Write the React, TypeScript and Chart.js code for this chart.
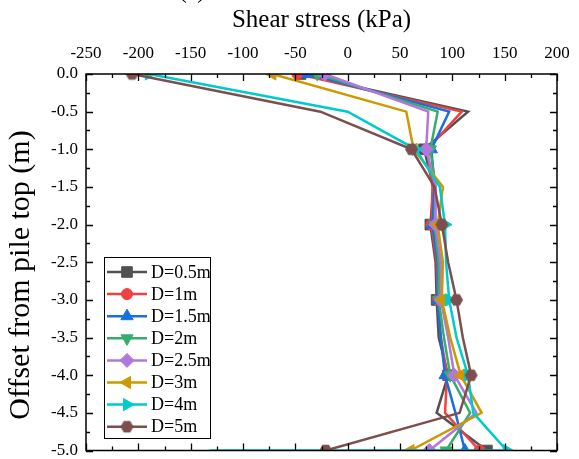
import React, { useEffect, useRef } from "react";
import { Chart, registerables } from "chart.js";
import { drawPoint } from "chart.js/helpers";

Chart.register(...registerables);

const FONT = "'Times New Roman', 'Liberation Serif', serif";

const DEPTHS = [0, -0.5, -1, -1.5, -2, -2.5, -3, -3.5, -4, -4.5, -5];
const DEPTHS_D4 = [0, -0.5, -1, -1.5, -2, -2.5, -3, -3.5, -4, -4.5, -5, -5];

const LABELS = ["D=0.5m", "D=1m", "D=1.5m", "D=2m", "D=2.5m", "D=3m", "D=4m", "D=5m"];
const D05 = [-45, 115, 73, 82, 79, 84, 85, 87, 96, 85, 133];
const D1 = [-48, 109, 76, 81, 80, 85, 86, 89, 95, 93, 126];
const D15 = [-38, 97, 80, 83, 81, 86, 86, 89, 93, 103, 112];
const D2 = [-29, 86, 79, 84, 83, 87, 87, 92, 98, 117, 94];
const D25 = [-22, 77, 75, 84, 84, 89, 89, 96, 102, 123, 78];
const D3 = [-72, 56, 63, 91, 86, 91, 90, 98, 108, 128, 60];
const D4 = [-190, 0, 65, 88, 93, 94, 97, 104, 115, 120, 152, -132];
const D5 = [-206, -26, 61, 83, 90, 96, 104, 110, 118, 107, -21];

const SERIES = [D05, D1, D15, D2, D25, D3, D4, D5];
const SERIES_DEPTHS = [DEPTHS, DEPTHS, DEPTHS, DEPTHS, DEPTHS, DEPTHS, DEPTHS_D4, DEPTHS];

const X_TITLE = "Shear stress (kPa)";
const Y_TITLE = "Offset from pile top (m)";
const PANEL_LABEL = "(a)";

const X_MIN = -250;
const X_MAX = 200;
const X_STEP = 50;
const Y_MIN = -5;
const Y_MAX = 0;
const Y_STEP = 0.5;

const COLORS = ["#515151", "#F14040", "#1A6FDF", "#37AD6B", "#B177DE", "#CC9900", "#00CBCC", "#7D4E4E"];
const MARKERS = ["rect", "circle", "triangle", "triangle", "rectRot", "triangle", "triangle", "hexagon"];
const ROTATIONS = [0, 0, 0, 180, 0, 270, 90, 0];
const RADII = [7.5, 5.5, 7, 7, 7, 7, 7, 6.5];

function makeHexagon(color: string, r: number) {
  const c = document.createElement("canvas");
  const s = Math.ceil(r * 2 + 2);
  c.width = s;
  c.height = s;
  const g = c.getContext("2d")!;
  g.fillStyle = color;
  g.beginPath();
  for (let k = 0; k < 6; k++) {
    const a = (Math.PI / 3) * k;
    const px = s / 2 + r * Math.cos(a);
    const py = s / 2 + r * Math.sin(a);
    if (k === 0) g.moveTo(px, py);
    else g.lineTo(px, py);
  }
  g.closePath();
  g.fill();
  return c;
}

export default function App() {
  const ref = useRef<HTMLCanvasElement | null>(null);

  useEffect(() => {
    if (!ref.current) return;
    Chart.defaults.font.family = FONT;
    const hex = makeHexagon(COLORS[7], 6.5);
    const styles: any[] = MARKERS.map((m) => (m === "hexagon" ? hex : m));

    const datasets = SERIES.map((vals, i) => ({
      label: LABELS[i],
      data: vals.map((v, j) => ({ x: v, y: SERIES_DEPTHS[i][j] })),
      showLine: true,
      borderColor: COLORS[i],
      backgroundColor: COLORS[i],
      borderWidth: 2.5,
      pointStyle: styles[i],
      rotation: ROTATIONS[i],
      pointBorderWidth: 1,
      pointBorderColor: COLORS[i],
      pointBackgroundColor: COLORS[i],
      pointRadius: (ctx: any) => (ctx.dataIndex % 2 === 0 && ctx.dataIndex <= 10 ? RADII[i] : 0),
      pointHoverRadius: 0,
      tension: 0,
      fill: false,
      clip: 0,
      order: SERIES.length - 1 - i,
    }));

    const framePlugin = {
      id: "frame",
      afterDraw(chart: any) {
        const { ctx, chartArea: a } = chart;
        const xs = chart.scales.x;
        const ys = chart.scales.y;
        ctx.save();
        ctx.strokeStyle = "#000";
        ctx.lineWidth = 1.5;
        ctx.strokeRect(a.left, a.top, a.right - a.left, a.bottom - a.top);
        ctx.lineWidth = 1.3;
        ctx.beginPath();
        for (let v = X_MIN; v <= X_MAX + 1e-9; v += X_STEP / 2) {
          const px = Math.round(xs.getPixelForValue(v)) + 0.5;
          const len = Math.abs(v % X_STEP) < 1e-6 ? 7 : 4;
          ctx.moveTo(px, a.top);
          ctx.lineTo(px, a.top + len);
          ctx.moveTo(px, a.bottom);
          ctx.lineTo(px, a.bottom - len);
        }
        for (let v = Y_MIN; v <= Y_MAX + 1e-9; v += Y_STEP / 2) {
          const py = Math.round(ys.getPixelForValue(v)) + 0.5;
          const len = Math.abs((v / Y_STEP) - Math.round(v / Y_STEP)) < 1e-6 ? 7 : 4;
          ctx.moveTo(a.left, py);
          ctx.lineTo(a.left + len, py);
          ctx.moveTo(a.right, py);
          ctx.lineTo(a.right - len, py);
        }
        ctx.stroke();

        // legend
        const bx = 104, by = 257, bw = 106, bh = 181;
        ctx.fillStyle = "#fff";
        ctx.fillRect(bx, by, bw, bh);
        ctx.lineWidth = 1;
        ctx.strokeStyle = "#000";
        ctx.strokeRect(bx + 0.5, by + 0.5, bw, bh);
        ctx.font = `18px ${FONT}`;
        ctx.textBaseline = "middle";
        ctx.textAlign = "left";
        for (let i = 0; i < LABELS.length; i++) {
          const y = 272 + i * 22.1;
          ctx.strokeStyle = COLORS[i];
          ctx.lineWidth = 2.5;
          ctx.beginPath();
          ctx.moveTo(107, y);
          ctx.lineTo(147, y);
          ctx.stroke();
          ctx.fillStyle = COLORS[i];
          ctx.strokeStyle = COLORS[i];
          ctx.lineWidth = 1;
          drawPoint(ctx, { pointStyle: styles[i], rotation: ROTATIONS[i], radius: RADII[i], borderWidth: 1 } as any, 127, y);
          ctx.fillStyle = "#000";
          ctx.fillText(LABELS[i], 151, y + 1);
        }

        // y-axis title
        ctx.save();
        ctx.translate(21, 275);
        ctx.rotate(-Math.PI / 2);
        ctx.fillStyle = "#000";
        ctx.font = `30px ${FONT}`;
        ctx.textAlign = "center";
        ctx.textBaseline = "middle";
        ctx.fillText(Y_TITLE, 0, 0);
        ctx.restore();

        // partially visible panel label
        ctx.fillStyle = "#000";
        ctx.font = `24px ${FONT}`;
        ctx.textAlign = "center";
        ctx.textBaseline = "alphabetic";
        ctx.fillText(PANEL_LABEL, 192, -2);
        ctx.restore();
      },
    };

    const chart = new Chart(ref.current, {
      type: "scatter",
      data: { datasets: datasets as any },
      options: {
        animation: false,
        responsive: false,
        devicePixelRatio: 1,
        layout: { padding: { left: 0, top: 0, right: 22, bottom: 6 } },
        plugins: { legend: { display: false }, tooltip: { enabled: false } },
        scales: {
          x: {
            type: "linear",
            position: "top",
            min: X_MIN,
            max: X_MAX,
            afterFit: (s: any) => {
              s.height = 74;
              s.paddingLeft = 0;
              s.paddingRight = 0;
            },
            ticks: {
              stepSize: X_STEP,
              padding: 10,
              color: "#000",
              font: { size: 17, family: FONT },
              callback: (v: any) => String(v),
            },
            grid: { display: false, drawTicks: false },
            border: { display: false },
            title: {
              display: true,
              text: X_TITLE,
              color: "#000",
              font: { size: 25, family: FONT },
              padding: { top: 5, bottom: 0 },
            },
          },
          y: {
            type: "linear",
            position: "left",
            min: Y_MIN,
            max: Y_MAX,
            afterFit: (s: any) => {
              s.width = 86;
              s.paddingTop = 0;
              s.paddingBottom = 0;
            },
            ticks: {
              stepSize: Y_STEP,
              padding: 8,
              color: "#000",
              font: { size: 17, family: FONT },
              callback: (v: any) => Number(v).toFixed(1),
            },
            grid: { display: false, drawTicks: false },
            border: { display: false },
            title: { display: false },
          },
        },
      },
      plugins: [framePlugin],
    });
    return () => chart.destroy();
  }, []);

  return (
    <div style={{ position: "fixed", left: 0, top: 0, width: 579, height: 459, background: "#fff" }}>
      <canvas ref={ref} width={579} height={459} style={{ display: "block" }} />
    </div>
  );
}
